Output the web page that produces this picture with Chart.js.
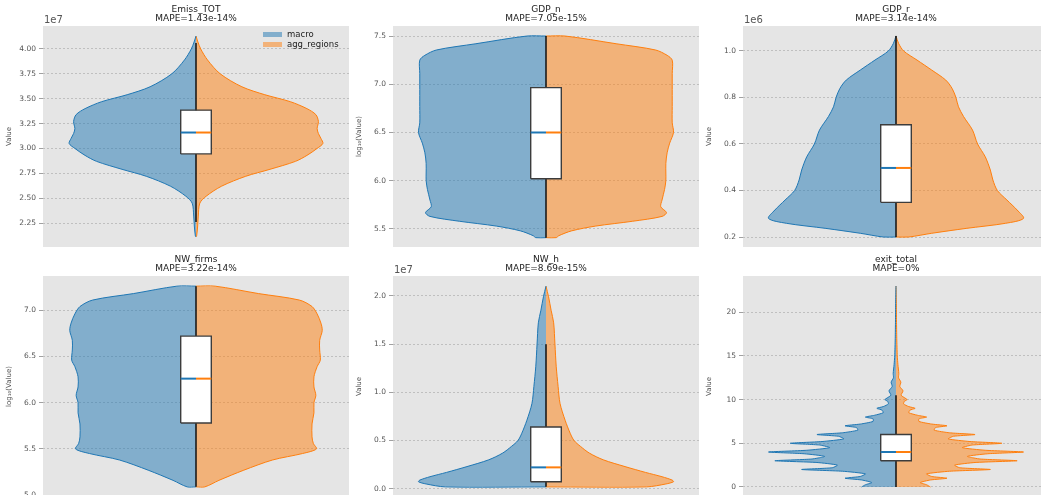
<!DOCTYPE html>
<html>
<head>
<meta charset="utf-8">
<script src="https://cdn.jsdelivr.net/npm/chart.js@4.4.1/dist/chart.umd.min.js"></script>
<style>
  html, body { margin: 0; padding: 0; background: #fff; width: 1041px; height: 495px; overflow: hidden; position: relative; }
  .cell { position: absolute; width: 349px; height: 247px; }
</style>
</head>
<body>
<div class="cell" style="left:0px;top:0px"><canvas id="c0"></canvas></div>
<div class="cell" style="left:350px;top:0px"><canvas id="c1"></canvas></div>
<div class="cell" style="left:700px;top:0px"><canvas id="c2"></canvas></div>
<div class="cell" style="left:0px;top:250px"><canvas id="c3"></canvas></div>
<div class="cell" style="left:350px;top:250px"><canvas id="c4"></canvas></div>
<div class="cell" style="left:700px;top:250px"><canvas id="c5"></canvas></div>
<script>
const names = ['Emiss_TOT', 'GDP_n', 'GDP_r', 'NW_firms', 'NW_h', 'exit_total'];
const mape = ['1.43e-14%', '7.05e-15%', '3.14e-14%', '3.22e-14%', '8.69e-15%', '0%'];
const yTitles = ['Value', 'log₁₀(Value)', 'Value', 'log₁₀(Value)', 'Value', 'Value'];
const offsetText = ['1e7', '', '1e6', '', '1e7', ''];
const seriesNames = ['macro', 'agg_regions'];

// violin outlines: value level -> half width (widest = 1)
// macro and agg_regions are identical (MAPE ~ 0)
const emissY = [2.11, 2.12, 2.22, 2.32, 2.45, 2.52, 2.62, 2.72, 2.79, 2.87, 2.93, 3.00, 3.05, 3.10, 3.15, 3.20, 3.27, 3.34, 3.40, 3.47, 3.54, 3.62, 3.75, 3.89, 4.00, 4.07, 4.13];
const emissW = [0, 0.005, 0.013, 0.018, 0.03, 0.08, 0.20, 0.39, 0.58, 0.78, 0.87, 0.95, 0.995, 0.98, 0.96, 0.95, 0.96, 0.94, 0.87, 0.74, 0.54, 0.36, 0.19, 0.09, 0.037, 0.015, 0];
const gdpnY = [5.41, 5.41, 5.43, 5.48, 5.53, 5.58, 5.63, 5.67, 5.73, 5.80, 5.91, 6.00, 6.08, 6.18, 6.29, 6.39, 6.50, 6.60, 6.77, 7.00, 7.11, 7.25, 7.30, 7.355, 7.42, 7.50, 7.50];
const gdpnW = [0, 0.08, 0.10, 0.20, 0.39, 0.68, 0.91, 0.945, 0.90, 0.91, 0.93, 0.94, 0.94, 0.94, 0.95, 0.97, 1.0, 0.99, 0.99, 0.99, 0.99, 0.99, 0.95, 0.86, 0.55, 0.15, 0];
const gdprY = [0.20, 0.20, 0.216, 0.237, 0.259, 0.28, 0.316, 0.359, 0.40, 0.445, 0.488, 0.545, 0.60, 0.66, 0.718, 0.76, 0.80, 0.839, 0.875, 0.918, 0.961, 1.0, 1.033, 1.065];
const gdprW = [0, 0.10, 0.28, 0.55, 0.86, 1.0, 0.95, 0.87, 0.795, 0.76, 0.74, 0.70, 0.64, 0.60, 0.53, 0.49, 0.47, 0.44, 0.39, 0.28, 0.165, 0.06, 0.02, 0];
const nwfY = [5.09, 5.09, 5.16, 5.27, 5.38, 5.45, 5.50, 5.56, 5.63, 5.77, 5.89, 6.00, 6.08, 6.17, 6.28, 6.39, 6.46, 6.57, 6.675, 6.78, 6.86, 6.96, 7.04, 7.11, 7.18, 7.26, 7.26];
const nwfW = [0, 0.07, 0.18, 0.375, 0.60, 0.835, 0.945, 0.92, 0.91, 0.91, 0.925, 0.925, 0.94, 0.925, 0.925, 0.95, 0.975, 0.97, 0.97, 0.99, 0.98, 0.95, 0.91, 0.81, 0.49, 0.15, 0];
const nwhY = [0.02, 0.02, 0.05, 0.073, 0.09, 0.125, 0.17, 0.23, 0.30, 0.37, 0.44, 0.50, 0.575, 0.71, 0.885, 1.06, 1.27, 1.5, 1.72, 1.85, 1.99, 2.10];
const nwhW = [0, 0.79, 0.94, 1.0, 0.99, 0.91, 0.78, 0.62, 0.45, 0.34, 0.27, 0.22, 0.19, 0.15, 0.11, 0.095, 0.08, 0.07, 0.06, 0.04, 0.02, 0];
const exitY = [0, 0.25, 0.5, 0.8, 1.0, 1.2, 1.5, 1.8, 2.0, 2.2, 2.5, 2.8, 3.0, 3.2, 3.5, 3.8, 4.0, 4.2, 4.5, 4.8, 5.0, 5.2, 5.5, 5.8, 6.0, 6.2, 6.5, 6.8, 7.0, 7.2, 7.5, 7.8, 8.0, 8.2, 8.5, 8.8, 9.0, 9.2, 9.5, 9.8, 10.0, 10.5, 11.0, 11.5, 12.0, 12.5, 13, 14, 15, 17, 19, 21, 23];
const exitW = [0.27, 0.24, 0.19, 0.27, 0.40, 0.28, 0.24, 0.42, 0.74, 0.50, 0.46, 0.62, 0.95, 0.66, 0.56, 0.72, 1.0, 0.70, 0.52, 0.60, 0.83, 0.58, 0.41, 0.45, 0.62, 0.42, 0.30, 0.31, 0.40, 0.28, 0.18, 0.18, 0.24, 0.17, 0.10, 0.11, 0.15, 0.10, 0.06, 0.065, 0.087, 0.04, 0.055, 0.03, 0.038, 0.02, 0.022, 0.015, 0.01, 0.006, 0.004, 0.003, 0];

const levels = [emissY, gdpnY, gdprY, nwfY, nwhY, exitY];
const widths = [emissW, gdpnW, gdprW, nwfW, nwhW, exitW];

// [whisker low, q1, median, q3, whisker high]
const boxes = [
  [2.26, 2.945, 3.16, 3.385, 4.06],
  [5.41, 6.02, 6.50, 6.965, 7.50],
  [0.20, 0.349, 0.497, 0.683, 1.065],
  [5.09, 5.78, 6.26, 6.72, 7.26],
  [0.02, 0.073, 0.222, 0.64, 1.497],
  [0, 3, 4, 6, 10.5]
];

const yMin = [2.009, 5.313, 0.157, 4.98, -0.085, -1.15];
const yMax = [4.231, 7.604, 1.1075, 7.37, 2.205, 24.15];
const yStep = [0.25, 0.5, 0.2, 0.5, 0.5, 5];
const yDec = [2, 1, 1, 1, 1, 0];

const FONT = 'DejaVu Sans';
const BLUE = '#1f77b4', ORANGE = '#ff7f0e';
const BLUE_A = 'rgba(31,119,180,0.5)', ORANGE_A = 'rgba(255,127,14,0.5)';
const BW = 0.12;

Chart.defaults.font.family = FONT;

const panelBg = {
  id: 'panelBg',
  beforeDraw(chart) {
    const {ctx, chartArea: a} = chart;
    ctx.save();
    ctx.fillStyle = '#e5e5e5';
    ctx.fillRect(a.left, a.top, a.width, a.height);
    ctx.restore();
  }
};

const offsetLabel = {
  id: 'offsetLabel',
  afterDraw(chart, args, opts) {
    if (!opts.text) return;
    const {ctx, chartArea: a} = chart;
    ctx.save();
    ctx.font = '10px ' + FONT;
    ctx.fillStyle = '#555';
    ctx.textBaseline = 'middle';
    ctx.fillText(opts.text, a.left + 1, a.top - 5.5);
    ctx.restore();
  }
};

const insideLegend = {
  id: 'insideLegend',
  afterDraw(chart, args, opts) {
    if (!opts.items) return;
    const {ctx, chartArea: a} = chart;
    ctx.save();
    ctx.font = '8.5px ' + FONT;
    ctx.textBaseline = 'middle';
    opts.items.forEach((it, k) => {
      const y = a.top + 6 + k * 10;
      ctx.fillStyle = it.color;
      ctx.fillRect(a.right - 86, y, 19, 5);
      ctx.fillStyle = '#222';
      ctx.fillText(it.text, a.right - 62, y + 2.5);
    });
    ctx.restore();
  }
};

const half = (ys, ws, sign) => ys.map((y, k) => ({x: sign * ws[k], y}));

function makeChart(i) {
  const b = boxes[i];
  const tension = i === 5 ? 0.2 : 0.3;
  const datasets = [
    {label: seriesNames[0], data: half(levels[i], widths[i], -1), borderColor: BLUE, backgroundColor: BLUE_A, borderWidth: 1, fill: 'origin', tension, order: 8},
    {label: seriesNames[1], data: half(levels[i], widths[i], 1), borderColor: ORANGE, backgroundColor: ORANGE_A, borderWidth: 1, fill: 'origin', tension, order: 8},
    {label: 'whisker', data: [{x: 0, y: b[0]}, {x: 0, y: b[4]}], borderColor: '#111', borderWidth: 1.5, fill: false, order: 6},
    {label: 'boxL', data: [{x: -BW, y: b[1]}, {x: -BW, y: b[3]}], borderColor: 'rgba(0,0,0,0)', borderWidth: 0, backgroundColor: '#ffffff', fill: 'origin', order: 5},
    {label: 'boxR', data: [{x: BW, y: b[1]}, {x: BW, y: b[3]}], borderColor: 'rgba(0,0,0,0)', borderWidth: 0, backgroundColor: '#ffffff', fill: 'origin', order: 5},
    {label: 'boxEdge', data: [{x: -BW, y: b[1]}, {x: -BW, y: b[3]}, {x: BW, y: b[3]}, {x: BW, y: b[1]}, {x: -BW, y: b[1]}], borderColor: '#3c3c3c', borderWidth: 1.4, fill: false, order: 3},
    {label: 'medL', data: [{x: -BW, y: b[2]}, {x: 0, y: b[2]}], borderColor: BLUE, borderWidth: 2, fill: false, order: 2},
    {label: 'medR', data: [{x: 0, y: b[2]}, {x: BW, y: b[2]}], borderColor: ORANGE, borderWidth: 2, fill: false, order: 2}
  ];

  return new Chart(document.getElementById('c' + i), {
    type: 'line',
    data: {datasets},
    plugins: [panelBg, offsetLabel, insideLegend],
    options: {
      indexAxis: 'y',
      responsive: true,
      maintainAspectRatio: false,
      animation: false,
      events: [],
      layout: {padding: 0},
      elements: {point: {radius: 0}, line: {tension: 0}},
      scales: {
        x: {type: 'linear', display: false, min: -1.2, max: 1.2},
        y: {
          type: 'linear',
          min: yMin[i],
          max: yMax[i],
          afterFit(s) { s.width = 43; s.paddingTop = 0; s.paddingBottom = 0; },
          border: {display: false, dash: [2, 2]},
          grid: {color: '#b5b5b5', lineWidth: 0.8, drawTicks: true, tickLength: 4, tickColor: '#888', tickBorderDash: [], tickWidth: 0.8},
          ticks: {
            stepSize: yStep[i],
            includeBounds: false,
            color: '#555',
            font: {size: 7.5},
            padding: 3,
            callback: v => Number(v).toFixed(yDec[i])
          },
          title: {display: true, text: yTitles[i], color: '#555', font: {size: 7}, padding: {top: 5, bottom: 0}}
        }
      },
      plugins: {
        legend: {display: false},
        tooltip: {enabled: false},
        title: {
          display: true,
          fullSize: false,
          text: [names[i], 'MAPE=' + mape[i]],
          color: '#222',
          font: {size: 9, weight: 'normal', lineHeight: 1.0},
          padding: {top: 5, bottom: 3}
        },
        offsetLabel: {text: offsetText[i]},
        insideLegend: i === 0 ? {items: [{text: seriesNames[0], color: BLUE_A}, {text: seriesNames[1], color: ORANGE_A}]} : {}
      }
    }
  });
}

for (let i = 0; i < 6; i++) makeChart(i);
</script>
</body>
</html>
